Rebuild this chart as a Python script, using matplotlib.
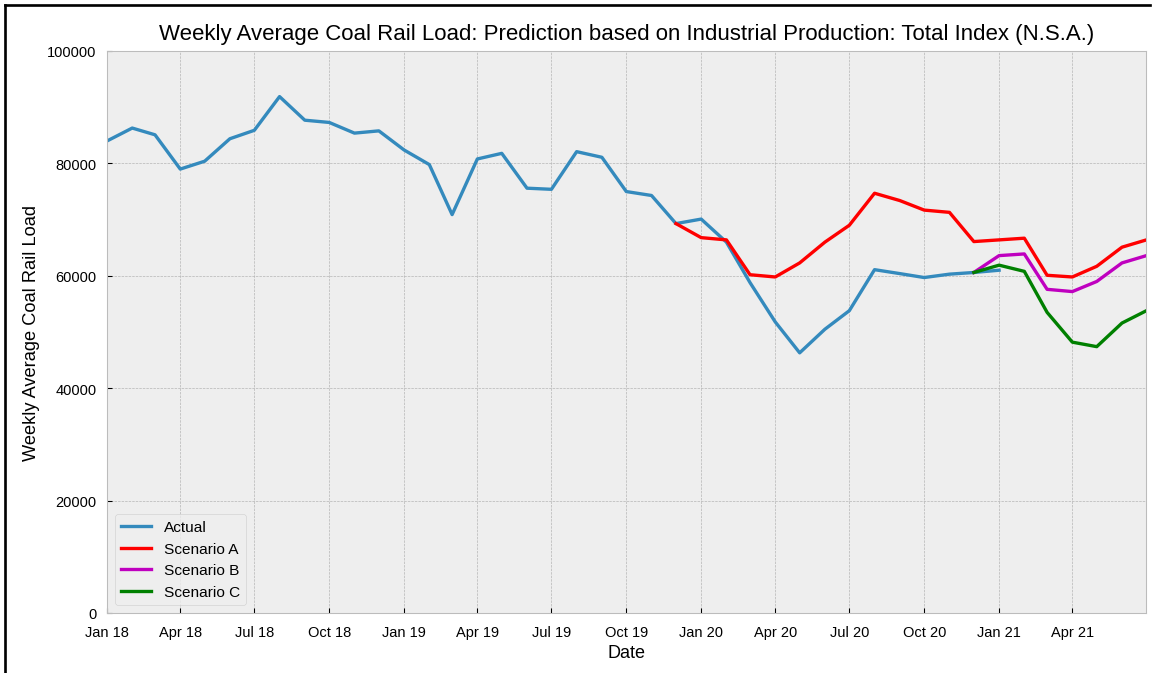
import matplotlib
matplotlib.use('Agg')
import matplotlib.pyplot as plt
import matplotlib.dates as mdates
from matplotlib.lines import Line2D
import pandas as pd

plt.style.use('bmh')
plt.rcParams['font.family'] = ['Liberation Sans', 'DejaVu Sans']

# monthly averages, Jan 2018 - Jan 2021
actual = [84000, 86300, 85100, 79000, 80400, 84400, 85900, 91900, 87700, 87300,
          85400, 85800, 82400, 79800, 70900, 80800, 81800, 75600, 75400, 82100,
          81100, 75000, 74300, 69300, 70100, 66000, 58800, 51800, 46300, 50500,
          53800, 61100, 60400, 59700, 60300, 60600, 61000]

# scenario A from Dec 2019 to Jul 2021
scen_a = [69300, 66800, 66400, 60200, 59800, 62300, 66000, 69000, 74700, 73400,
          71700, 71300, 66100, 66400, 66700, 60100, 59800, 61700, 65100, 66400]

# scenarios B and C from Dec 2020 to Jul 2021
scen_b = [60600, 63600, 63900, 57600, 57200, 59000, 62300, 63600]
scen_c = [60600, 61900, 60800, 53500, 48200, 47400, 51600, 53800]

dates_actual = pd.date_range('2018-01-01', periods=len(actual), freq='MS')
dates_a = pd.date_range('2019-12-01', periods=len(scen_a), freq='MS')
dates_bc = pd.date_range('2020-12-01', periods=len(scen_b), freq='MS')

fig = plt.figure(figsize=(12, 7.02), dpi=96)
fig.patch.set_facecolor('white')
ax = fig.add_axes([107 / 1152, 1 - 614 / 674, (1146 - 107) / 1152, (614 - 52) / 674])

ax.plot(dates_actual, actual, color='#348ABD', lw=2.5, label='Actual')
ax.plot(dates_a, scen_a, color='r', lw=2.5, label='Scenario A')
ax.plot(dates_bc, scen_b, color='m', lw=2.5, label='Scenario B')
ax.plot(dates_bc, scen_c, color='g', lw=2.5, label='Scenario C')

ax.set_xlim(dates_actual[0], dates_a[-1] - pd.Timedelta(hours=12))
ax.set_ylim(0, 100000)
ax.xaxis.set_major_locator(mdates.MonthLocator(bymonth=[1, 4, 7, 10]))
ax.xaxis.set_major_formatter(mdates.DateFormatter('%b %y'))
ax.tick_params(axis='x', labelsize=11, pad=9)
ax.tick_params(axis='y', labelsize=11, pad=8)

ax.set_title('Weekly Average Coal Rail Load: Prediction based on Industrial Production: Total Index (N.S.A.)',
             fontsize=16.7, pad=9)
ax.set_xlabel('Date', fontsize=13.5, labelpad=4)
ax.set_ylabel('Weekly Average Coal Rail Load', fontsize=13.7, labelpad=5)
ax.legend(loc='lower left', fontsize=11.5)

# frame lines along the top and left edge of the image
fig.add_artist(Line2D([5 / 1152, 5 / 1152], [0, 1 - 6 / 674], color='black', lw=2))
fig.add_artist(Line2D([5 / 1152, 1150 / 1152], [1 - 6 / 674, 1 - 6 / 674], color='black', lw=2))

fig.savefig('out.png', dpi=96)
